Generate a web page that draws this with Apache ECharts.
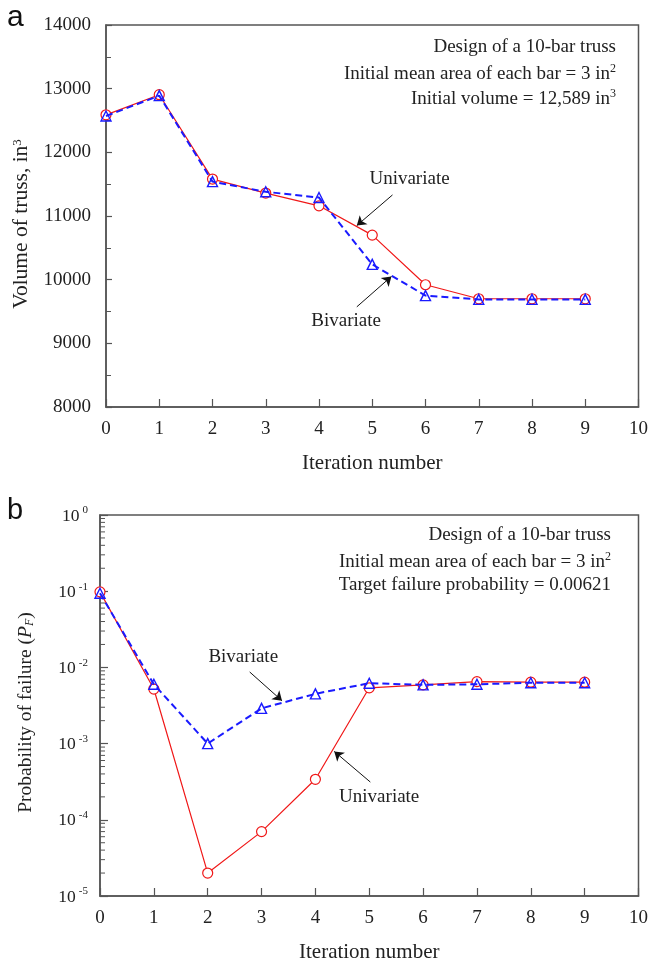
<!DOCTYPE html>
<html>
<head>
<meta charset="utf-8">
<script src="https://cdn.jsdelivr.net/npm/echarts@6/dist/echarts.min.js"></script>
<style>
  html, body { margin: 0; padding: 0; background: #fff; }
  #main { width: 651px; height: 966px; }
</style>
</head>
<body>
<div id="main"></div>
<script>
// iteration numbers shared by both panels
const iterations = [0, 1, 2, 3, 4, 5, 6, 7, 8, 9]

// panel a: volume of truss (in^3)
const volumeUni = [12589, 12905, 11580, 11360, 11160, 10700, 9920, 9700, 9700, 9700]
const volumeBi = [12570, 12890, 11540, 11380, 11290, 10240, 9750, 9690, 9690, 9690]

// panel b: probability of failure
const pfUni = [0.098, 0.0052, 0.00002, 0.00007, 0.00034, 0.0054, 0.0059, 0.0065, 0.0064, 0.0064]
const pfBi = [0.094, 0.006, 0.001, 0.0029, 0.0045, 0.0062, 0.0059, 0.006, 0.0063, 0.0063]

// text in the upper right corners
const notesA = ['Design of a 10-bar truss', 'Initial mean area of each bar = 3 in{sup|2}', 'Initial volume = 12,589 in{sup|3}']
const notesB = ['Design of a 10-bar truss', 'Initial mean area of each bar = 3 in{sup|2}', 'Target failure probability = 0.00621']

// log minor ticks (2..9 x 10^k)
const logMinorTicks = []
for (let k = -5; k < 0; k++) {
  for (let m = 2; m <= 9; m++) logMinorTicks.push(m * Math.pow(10, k))
}

const serif = 'Liberation Serif'
const ink = '#222'
const axisInk = '#555'

const pair = (xs, ys) => xs.map((x, i) => [x, ys[i]])

const uniStyle = {
  type: 'line',
  symbol: 'circle',
  symbolSize: 10,
  showAllSymbol: true,
  lineStyle: { color: '#f01818', width: 1.2 },
  itemStyle: { color: '#fff', borderColor: '#f01818', borderWidth: 1.2 },
  z: 3,
}
const biStyle = {
  type: 'line',
  symbol: 'triangle',
  symbolSize: 10,
  showAllSymbol: true,
  lineStyle: { color: '#1a1aff', width: 2, type: [7, 4] },
  itemStyle: { color: 'rgba(0,0,0,0)', borderColor: '#1a1aff', borderWidth: 1.4 },
  z: 4,
}

const arrow = (from, to) => ({
  silent: true,
  symbol: ['none', 'arrow'],
  symbolSize: 9,
  label: { show: false },
  lineStyle: { color: '#111', width: 1, type: 'solid' },
  data: [[{ coord: from }, { coord: to }]],
})
const note = (text, coord) => ({
  silent: true,
  symbol: 'circle',
  symbolSize: 2,
  itemStyle: { color: 'rgba(0,0,0,0)' },
  label: { show: true, position: 'inside', formatter: text, fontFamily: serif, fontSize: 19, color: ink },
  data: [{ coord: coord }],
})

// one right-aligned text element per line
const cornerText = (lines, right, top) => lines.map((t, i) => ({
  type: 'text',
  right: right,
  top: top + i * 25,
  style: {
    text: t,
    fontFamily: serif, fontSize: 19, fill: ink,
    rich: { sup: { fontFamily: serif, fontSize: 12, fill: ink, verticalAlign: 'top', lineHeight: 22 } },
  },
}))

const xAxisBase = {
  type: 'value',
  min: 0,
  max: 10,
  interval: 1,
  name: 'Iteration number',
  nameLocation: 'middle',
  nameGap: 46,
  nameTextStyle: { fontFamily: serif, fontSize: 21, color: ink },
  axisLine: { lineStyle: { color: axisInk, width: 1.5 } },
  axisTick: { inside: true, length: 8, lineStyle: { color: axisInk, width: 1.2 } },
  axisLabel: { fontFamily: serif, fontSize: 19, color: ink, margin: 13 },
  splitLine: { show: false },
}

const chart = echarts.init(document.getElementById('main'), null, { renderer: 'canvas' })

const option = {
  animation: false,
  backgroundColor: '#fff',
  grid: [
    { left: 106, top: 25, width: 533, height: 382, show: true, borderColor: axisInk, borderWidth: 1.5, backgroundColor: 'transparent' },
    { left: 100, top: 515, width: 540, height: 381, show: true, borderColor: axisInk, borderWidth: 1.5, backgroundColor: 'transparent' },
  ],
  xAxis: [
    Object.assign({ gridIndex: 0 }, xAxisBase),
    Object.assign({ gridIndex: 1 }, xAxisBase),
  ],
  yAxis: [
    {
      gridIndex: 0,
      type: 'value',
      min: 8000,
      max: 14000,
      interval: 1000,
      name: 'Volume of truss, in{sup|3}',
      nameLocation: 'middle',
      nameGap: 70,
      nameTextStyle: {
        fontFamily: serif, fontSize: 21.5, color: ink, padding: [0, 16, 0, 0],
        rich: { sup: { fontFamily: serif, fontSize: 13, color: ink, verticalAlign: 'top', lineHeight: 12 } },
      },
      axisLine: { lineStyle: { color: axisInk, width: 1.5 } },
      axisTick: { inside: true, length: 6, lineStyle: { color: axisInk, width: 1.2 } },
      minorTick: { show: true, splitNumber: 2, length: 5, lineStyle: { color: axisInk, width: 1 } },
      axisLabel: { fontFamily: serif, fontSize: 19, color: ink, margin: 15, formatter: v => String(v) },
      splitLine: { show: false },
      minorSplitLine: { show: false },
    },
    {
      gridIndex: 1,
      type: 'log',
      logBase: 10,
      min: 0.00001,
      max: 1,
      name: 'Probability of failure ({i|P}{sub|F})',
      nameLocation: 'middle',
      nameGap: 64,
      nameTextStyle: {
        fontFamily: serif, fontSize: 19.5, color: ink, padding: [0, 14, 0, 0],
        rich: {
          i: { fontFamily: serif, fontSize: 19.5, fontStyle: 'italic', color: ink },
          sub: { fontFamily: serif, fontSize: 12, fontStyle: 'italic', color: ink, verticalAlign: 'bottom' },
        },
      },
      axisLine: { lineStyle: { color: axisInk, width: 1.5 } },
      axisTick: { inside: true, length: 8, lineStyle: { color: axisInk, width: 1.2 } },
      axisLabel: {
        color: ink, margin: 12,
        formatter: v => {
          const e = Math.round(Math.log10(v))
          return '{base|10}{sup|' + (e < 0 ? '-' + (-e) : e) + '}'
        },
        rich: {
          base: { fontFamily: serif, fontSize: 17.5, color: ink, verticalAlign: 'bottom', lineHeight: 20 },
          sup: { fontFamily: serif, fontSize: 11, color: ink, verticalAlign: 'top', lineHeight: 13, padding: [0, 0, 0, 3] },
        },
      },
      splitLine: { show: false },
    },
  ],
  graphic: [
    { type: 'text', left: 7, top: 3, style: { text: 'a', fontFamily: 'Liberation Sans', fontSize: 30, fill: '#111' } },
    { type: 'text', left: 7, top: 496, style: { text: 'b', fontFamily: 'Liberation Sans', fontSize: 29, fill: '#111' } },
  ].concat(cornerText(notesA, 35, 38), cornerText(notesB, 40, 526)),
  series: [
    Object.assign({}, uniStyle, {
      name: 'Univariate', xAxisIndex: 0, yAxisIndex: 0,
      data: pair(iterations, volumeUni),
      markLine: arrow([5.38, 11331], [4.71, 10850]),
      markPoint: note('Univariate', [5.7, 11582]),
    }),
    Object.assign({}, biStyle, {
      name: 'Bivariate', xAxisIndex: 0, yAxisIndex: 0,
      data: pair(iterations, volumeBi),
      markLine: arrow([4.71, 9573], [5.36, 10050]),
      markPoint: note('Bivariate', [4.51, 9358]),
    }),
    Object.assign({}, uniStyle, {
      name: 'Univariate', xAxisIndex: 1, yAxisIndex: 1,
      data: pair(iterations, pfUni),
      markLine: arrow([5.02, 0.000313], [4.35, 0.00079]),
      markPoint: note('Univariate', [5.185, 0.000199]),
    }),
    Object.assign({}, biStyle, {
      name: 'Bivariate', xAxisIndex: 1, yAxisIndex: 1,
      data: pair(iterations, pfBi),
      markLine: arrow([2.78, 0.00871], [3.38, 0.00365]),
      markPoint: note('Bivariate', [2.66, 0.01368]),
    }),
    {
      type: 'custom',
      xAxisIndex: 1, yAxisIndex: 1,
      silent: true,
      clip: false,
      data: logMinorTicks.map(v => [0, v]),
      renderItem: (params, api) => {
        const p = api.coord([0, api.value(1)])
        return {
          type: 'line',
          shape: { x1: p[0], y1: p[1], x2: p[0] + 5, y2: p[1] },
          style: { stroke: axisInk, lineWidth: 1 },
        }
      },
      z: 1,
    },
  ],
}

chart.setOption(option)
</script>
</body>
</html>
